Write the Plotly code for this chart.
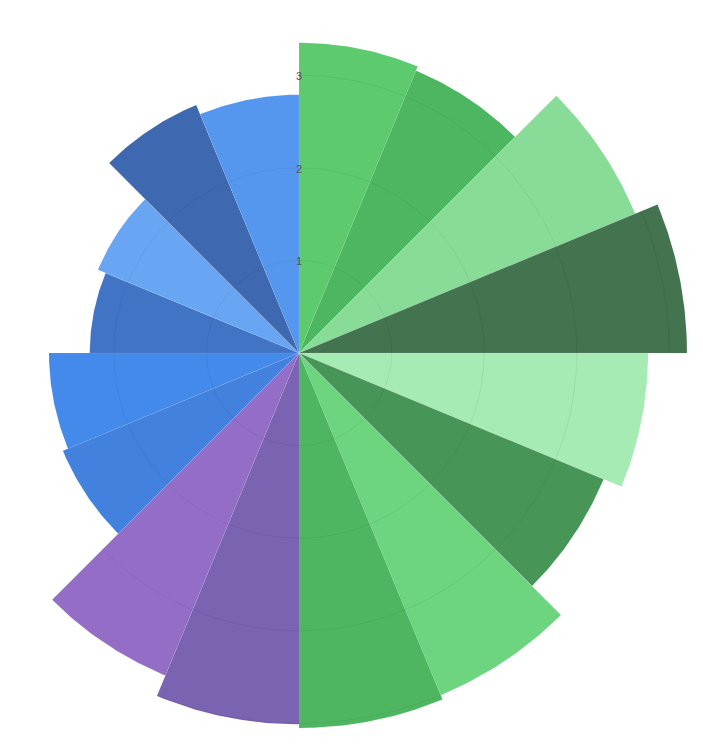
import numpy as np
import plotly.graph_objects as go

# Data
values = [3.35, 3.30, 3.93, 4.19, 3.77, 3.56, 4.00, 4.05,
          4.01, 3.77, 2.76, 2.70, 2.26, 2.35, 2.90, 2.79]
colors = ["#5DCA6E", "#4DB660", "#88DC98", "#43734F", "#A6EAB4", "#489657", "#6DD480", "#4EB661",
          "#7A63B0", "#946EC6", "#4281DD", "#448AEB", "#4274C6", "#68A6F4", "#3E69B0", "#5597EF"]
tick_vals = [1, 2, 3]
grid_vals = [1, 2, 3, 4]

n = len(values)
step = 360.0 / n
seg = 40

W, H = 703, 747
cx, cy = 291, 345          # centre of the polar area, px from figure top-left
px_per_unit = 92.6


def to_xy(r, theta_deg):
    # clockwise angles, 0 at 12 o'clock
    t = np.radians(np.asarray(theta_deg, dtype=float))
    r = np.asarray(r, dtype=float)
    return r * np.sin(t), r * np.cos(t)


fig = go.Figure()

# sectors (polar area)
for i, (v, c) in enumerate(zip(values, colors)):
    t0, t1 = step * i, step * (i + 1)
    th = np.concatenate([[t0], np.linspace(t0, t1, seg + 1), [t1]])
    rr = np.concatenate([[0], np.full(seg + 1, v), [0]])
    x, y = to_xy(rr, th)
    fig.add_trace(go.Scatter(
        x=x, y=y, mode="lines", fill="toself", fillcolor=c,
        line=dict(color="rgba(255,255,255,0.12)", width=0.5),
        hoverinfo="skip", showlegend=False,
    ))

# grid circles, visible inside the sectors
gx, gy = [], []
for i, v in enumerate(values):
    t0, t1 = step * i, step * (i + 1)
    for g in grid_vals:
        if g < v:
            x, y = to_xy(np.full(seg + 1, g), np.linspace(t0, t1, seg + 1))
            gx += list(x) + [None]
            gy += list(y) + [None]
fig.add_trace(go.Scatter(
    x=gx, y=gy, mode="lines",
    line=dict(color="rgba(0,0,0,0.06)", width=1),
    hoverinfo="skip", showlegend=False, connectgaps=False,
))

# radial tick labels
tx, ty = to_xy([t - 0.025 for t in tick_vals], [0] * len(tick_vals))
fig.add_trace(go.Scatter(
    x=tx, y=ty, mode="text", text=[str(t) for t in tick_vals],
    textfont=dict(size=11, color="#555555", family="Liberation Sans, Arial, sans-serif"),
    textposition="middle center", hoverinfo="skip", showlegend=False,
))

fig.update_layout(
    width=W, height=H,
    margin=dict(l=0, r=0, t=0, b=0),
    paper_bgcolor="white",
    plot_bgcolor="white",
    showlegend=False,
    xaxis=dict(range=[-cx / px_per_unit, (W - cx) / px_per_unit], visible=False, fixedrange=True),
    yaxis=dict(range=[-(H - cy) / px_per_unit, cy / px_per_unit], visible=False, fixedrange=True),
)

fig.write_html("out.html")
